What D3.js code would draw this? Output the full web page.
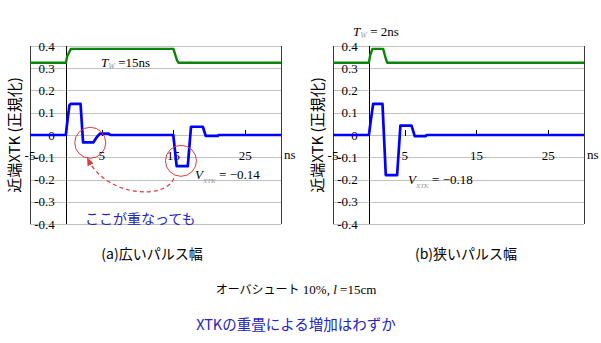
<!DOCTYPE html>
<html>
<head>
<meta charset="utf-8">
<script src="https://cdn.jsdelivr.net/npm/d3@7/dist/d3.min.js"></script>
<style>
  html, body { margin: 0; padding: 0; background: #fff; }
  svg { display: block; }
  .serif { font-family: "Liberation Serif", "DejaVu Serif", serif; }
  .jp { font-family: "Noto Sans CJK JP", "Noto Sans", sans-serif; }
</style>
</head>
<body>
<svg id="chart" width="601" height="343"></svg>
<script>
// Time axis (ns) and normalized crosstalk axis
const timeDomain = [-5, 30];
const xtkDomain = [-0.4, 0.4];
const xTickValues = [-5, 5, 15, 25];
const xTickLabels = ["-5", "5", "15", "25"];
const yTickValues = [0.4, 0.3, 0.2, 0.1, 0, -0.1, -0.2, -0.3, -0.4];
const yTickLabels = ["0.4", "0.3", "0.2", "0.1", "0", "-0.1", "-0.2", "-0.3", "-0.4"];

// (a) wide pulse, Tw = 15 ns: driver pulse (green) and near-end crosstalk (blue)
const widePulseTime = [-5, 0, 0.2, 0.7, 15.0, 15.5, 15.7, 30];
const widePulseLevel = [0.325, 0.325, 0.355, 0.387, 0.387, 0.335, 0.325, 0.325];
const wideXtkTime = [-5, 0, 0.15, 0.5, 0.7, 2.05, 2.4, 3.85, 4.3, 4.75, 6.0, 6.2,
                     14.98, 15.45, 17.0, 17.45, 19.1, 19.5, 21.2, 21.3, 30];
const wideXtkValue = [0, 0, 0.045, 0.135, 0.14, 0.14, -0.033, -0.033, -0.01, 0.006, 0.006, 0,
                      0, -0.14, -0.14, 0.037, 0.037, -0.004, -0.004, 0, 0];
const widePeak = -0.14;

// (b) narrow pulse, Tw = 2 ns
const narrowPulseTime = [-5, 0, 0.2, 0.5, 2.0, 2.3, 2.55, 30];
const narrowPulseLevel = [0.325, 0.325, 0.36, 0.387, 0.387, 0.35, 0.325, 0.325];
const narrowXtkTime = [-5, 0, 0.05, 0.25, 0.6, 1.9, 2.36, 3.94, 4.4, 5.95, 6.4, 7.95, 8.05, 30];
const narrowXtkValue = [0, 0, 0.01, 0.06, 0.14, 0.14, -0.18, -0.18, 0.042, 0.042, -0.005, -0.005, 0, 0];
const narrowPeak = -0.18;

const svg = d3.select("#chart");

const yScale = d3.scaleLinear().domain(xtkDomain).range([224, 46]);

function drawPanel(opts) {
  const g = svg.append("g");
  const x = d3.scaleLinear().domain(timeDomain).range([opts.left, opts.right]);
  const y = yScale;
  const px = v => Math.round(v) + 0.5;

  // horizontal grid
  g.selectAll("line.grid").data(yTickValues).enter().append("line")
    .attr("x1", opts.left).attr("x2", opts.right)
    .attr("y1", d => px(y(d))).attr("y2", d => px(y(d)))
    .attr("stroke", "#c0c0c0").attr("stroke-width", 1);

  // side frame
  [opts.left, opts.right].forEach(xx => {
    g.append("line")
      .attr("x1", px(xx)).attr("x2", px(xx))
      .attr("y1", y(0.4)).attr("y2", y(-0.4))
      .attr("stroke", "#3a3a3a").attr("stroke-width", 1);
  });

  // vertical axis at t = 0
  g.append("line")
    .attr("x1", px(x(0))).attr("x2", px(x(0)))
    .attr("y1", y(0.4)).attr("y2", y(-0.4))
    .attr("stroke", "#000").attr("stroke-width", 1);

  // time axis ticks on the zero line
  g.selectAll("line.tick").data(xTickValues.filter(d => d > timeDomain[0])).enter().append("line")
    .attr("x1", d => px(x(d))).attr("x2", d => px(x(d)))
    .attr("y1", y(0) - 5).attr("y2", y(0) + 1)
    .attr("stroke", "#000").attr("stroke-width", 1);

  // value labels beside the t = 0 axis
  g.selectAll("text.ylab").data(yTickValues).enter().append("text")
    .attr("class", "serif")
    .attr("x", x(0) - 11)
    .attr("y", d => y(d))
    .attr("dy", "0.36em")
    .attr("text-anchor", "end")
    .attr("font-size", 13)
    .text((d, i) => yTickLabels[i]);

  // time labels
  g.selectAll("text.xlab").data(xTickValues).enter().append("text")
    .attr("class", "serif")
    .attr("x", d => x(d))
    .attr("y", y(0) + 24.5)
    .attr("text-anchor", "middle")
    .attr("font-size", 13)
    .text((d, i) => xTickLabels[i]);

  g.append("text").attr("class", "serif")
    .attr("x", opts.right + 3).attr("y", y(0) + 23.5)
    .attr("font-size", 13).text("ns");

  // axis title
  g.append("text").attr("class", "jp")
    .attr("transform", `translate(${opts.left - 10},${135}) rotate(-90)`)
    .attr("text-anchor", "middle")
    .attr("font-size", 15)
    .text("近端XTK (正規化)");

  const line = d3.line().x(d => x(d[0])).y(d => y(d[1]));

  g.append("path")
    .datum(d3.zip(opts.pulseTime, opts.pulseLevel))
    .attr("d", line)
    .attr("fill", "none").attr("stroke", "#0a840a").attr("stroke-width", 2.4)
    .attr("stroke-linejoin", "round");

  g.append("path")
    .datum(d3.zip(opts.xtkTime, opts.xtkValue))
    .attr("d", line)
    .attr("fill", "none").attr("stroke", "#0000ff").attr("stroke-width", 2.7)
    .attr("stroke-linejoin", "round");

  // pulse width label
  const tw = g.append("text").attr("class", "serif")
    .attr("x", opts.twPos[0]).attr("y", opts.twPos[1]).attr("font-size", 13);
  tw.append("tspan").attr("font-style", "italic").text("T");
  tw.append("tspan").attr("font-style", "italic").attr("font-size", 8)
    .attr("fill", "#999").attr("dy", 2.5).text("W");
  tw.append("tspan").attr("dy", -2.5).text(opts.twText);

  // peak crosstalk label
  const vx = g.append("text").attr("class", "serif")
    .attr("x", opts.vPos[0]).attr("y", opts.vPos[1]).attr("font-size", 13);
  vx.append("tspan").attr("font-style", "italic").text("V");
  vx.append("tspan").attr("font-style", "italic").attr("font-size", 7)
    .attr("fill", "#999").attr("dy", 4).text("XTK");
  vx.append("tspan").attr("dy", -4).text(" = \u2212" + Math.abs(opts.peak).toFixed(2));

  return { g, x, y };
}

const left = drawPanel({
  left: 30, right: 281,
  pulseTime: widePulseTime, pulseLevel: widePulseLevel,
  xtkTime: wideXtkTime, xtkValue: wideXtkValue,
  twPos: [101, 66.5], twText: " =15ns",
  vPos: [195, 178.5], peak: widePeak
});

drawPanel({
  left: 333, right: 584,
  pulseTime: narrowPulseTime, pulseLevel: narrowPulseLevel,
  xtkTime: narrowXtkTime, xtkValue: narrowXtkValue,
  twPos: [353, 35.5], twText: " = 2ns",
  vPos: [408, 183.5], peak: narrowPeak
});

// overlap annotation in panel (a)
const red = "#e03a3a";
const lx = left.x, ly = left.y;
const circ = [[lx(3.4), ly(-0.035)], [lx(16.05), ly(-0.116)]];
left.g.selectAll("circle.mark").data(circ).enter().append("circle")
  .attr("cx", d => d[0]).attr("cy", d => d[1]).attr("r", 15.5)
  .attr("fill", "none").attr("stroke", red).attr("stroke-width", 1);

svg.append("defs").append("marker")
  .attr("id", "head").attr("viewBox", "0 0 10 10")
  .attr("refX", 8).attr("refY", 5)
  .attr("markerWidth", 7).attr("markerHeight", 7)
  .attr("orient", "auto")
  .append("path").attr("d", "M0,1 L10,5 L0,9 Z").attr("fill", red);

const p0 = [circ[1][0] - 7, circ[1][1] + 17.5];
const p1 = [circ[0][0] - 2.5, circ[0][1] + 16];
left.g.append("path")
  .attr("d", `M${p0[0]},${p0[1]} C${p0[0] - 9},${p0[1] + 22} ${p1[0] + 18},${p1[1] + 38} ${p1[0]},${p1[1]}`)
  .attr("fill", "none").attr("stroke", red).attr("stroke-width", 1.2)
  .attr("stroke-dasharray", "4,3")
  .attr("marker-end", "url(#head)");

svg.append("text").attr("class", "jp")
  .attr("x", 85).attr("y", 224).attr("font-size", 14)
  .attr("fill", "#2424c0")
  .text("ここが重なっても");

// captions
svg.append("text").attr("class", "jp")
  .attr("x", 152).attr("y", 259).attr("text-anchor", "middle").attr("font-size", 14)
  .text("(a)広いパルス幅");
svg.append("text").attr("class", "jp")
  .attr("x", 466).attr("y", 259).attr("text-anchor", "middle").attr("font-size", 14)
  .text("(b)狭いパルス幅");

const cond = svg.append("text")
  .attr("x", 296).attr("y", 294).attr("text-anchor", "middle").attr("font-size", 12);
cond.append("tspan").attr("class", "jp").text("オーバシュート");
cond.append("tspan").attr("class", "serif").attr("font-size", 13).text(" 10%, ");
cond.append("tspan").attr("class", "serif").attr("font-size", 13).attr("font-style", "italic").text("l");
cond.append("tspan").attr("class", "serif").attr("font-size", 13).text(" =15cm");

svg.append("text").attr("class", "jp")
  .attr("x", 296).attr("y", 330).attr("text-anchor", "middle").attr("font-size", 14.5)
  .attr("fill", "#2424c0")
  .text("XTKの重畳による増加はわずか");
</script>
</body>
</html>
